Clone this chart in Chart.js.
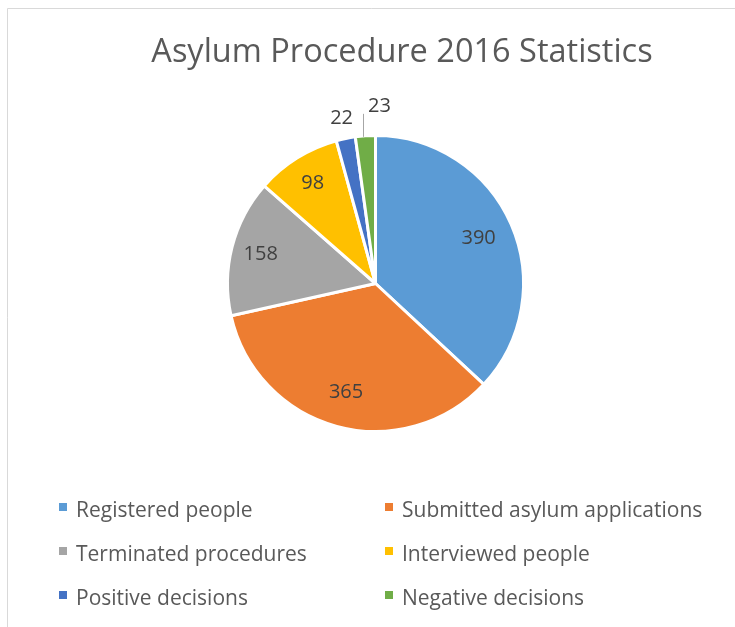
<!DOCTYPE html>
<html><head><meta charset="utf-8">
<script src="https://cdn.jsdelivr.net/npm/chart.js@4.4.0/dist/chart.umd.min.js"></script>
<style>html,body{margin:0;padding:0;background:#fff;}#wrap{position:relative;width:735px;height:627px;}canvas{display:block}</style>
</head><body><div id="wrap"><canvas id="c" width="735" height="627"></canvas></div>
<script>
const chartTitle = 'Asylum Procedure 2016 Statistics';
const categories = ['Registered people','Submitted asylum applications','Terminated procedures','Interviewed people','Positive decisions','Negative decisions'];
const values = [390, 365, 158, 98, 22, 23];
const colors = ['#5B9BD5','#ED7D31','#A5A5A5','#FFC000','#4472C4','#70AD47'];

const FONT = '"Open Sans", Lato, sans-serif';

const decor = {
  id: 'decor',
  beforeDraw(chart) {
    const ctx = chart.ctx;
    ctx.save();
    ctx.fillStyle = '#fff';
    ctx.fillRect(0, 0, chart.width, chart.height);
    ctx.strokeStyle = '#D9D9D9';
    ctx.lineWidth = 1;
    ctx.beginPath();
    ctx.moveTo(7.5, chart.height);
    ctx.lineTo(7.5, 8.5);
    ctx.lineTo(chart.width, 8.5);
    ctx.stroke();
    ctx.fillStyle = '#595959';
    ctx.font = '32.5px ' + FONT;
    ctx.textAlign = 'center';
    ctx.textBaseline = 'alphabetic';
    ctx.fillText(chartTitle, 402, 62);
    ctx.font = '21px ' + FONT;
    ctx.textAlign = 'left';
    categories.forEach((c, i) => {
      const col = i % 2, row = Math.floor(i / 2);
      const x = col ? 385 : 59;
      const y = 517 + row * 44;
      ctx.fillStyle = colors[i];
      ctx.fillRect(x, y - 14, 8, 8);
      ctx.fillStyle = '#595959';
      ctx.fillText(c, x + 17, y);
    });
    ctx.restore();
  },
  afterDatasetsDraw(chart) {
    const ctx = chart.ctx;
    const meta = chart.getDatasetMeta(0);
    ctx.save();
    ctx.font = '20px ' + FONT;
    ctx.fillStyle = '#404040';
    ctx.textAlign = 'center';
    ctx.textBaseline = 'middle';
    let smallCount = 0;
    meta.data.forEach((arc, i) => {
      const p = arc.getProps(['x', 'y', 'startAngle', 'endAngle', 'outerRadius'], true);
      const mid = (p.startAngle + p.endAngle) / 2;
      const frac = (p.endAngle - p.startAngle) / (2 * Math.PI);
      const txt = String(values[i]);
      if (frac > 0.05) {
        const r = p.outerRadius * (frac > 0.3 ? 0.76 : 0.8);
        ctx.fillText(txt, p.x + Math.cos(mid) * r, p.y + Math.sin(mid) * r);
      } else if (smallCount === 0) {
        smallCount++;
        const r = p.outerRadius * 1.14;
        ctx.fillText(txt, p.x + Math.cos(mid) * r, p.y + Math.sin(mid) * r);
      } else {
        smallCount++;
        const ex = p.x + Math.cos(mid) * (p.outerRadius - 1) - 2;
        const ey = p.y + Math.sin(mid) * (p.outerRadius - 1);
        ctx.strokeStyle = '#A6A6A6';
        ctx.lineWidth = 1;
        ctx.beginPath();
        ctx.moveTo(Math.round(ex) + 0.5, ey);
        ctx.lineTo(Math.round(ex) + 0.5, ey - 23);
        ctx.stroke();
        ctx.fillText(txt, ex + 16, ey - 31);
      }
    });
    ctx.restore();
  }
};

new Chart(document.getElementById('c'), {
  type: 'pie',
  data: {
    labels: categories,
    datasets: [{
      data: values,
      backgroundColor: colors,
      borderColor: '#ffffff',
      borderWidth: 3
    }]
  },
  options: {
    responsive: false,
    animation: false,
    layout: { padding: { left: 226, right: 210, top: 134, bottom: 194 } },
    plugins: { legend: { display: false }, tooltip: { enabled: false }, title: { display: false } }
  },
  plugins: [decor]
});
</script>
</body></html>
